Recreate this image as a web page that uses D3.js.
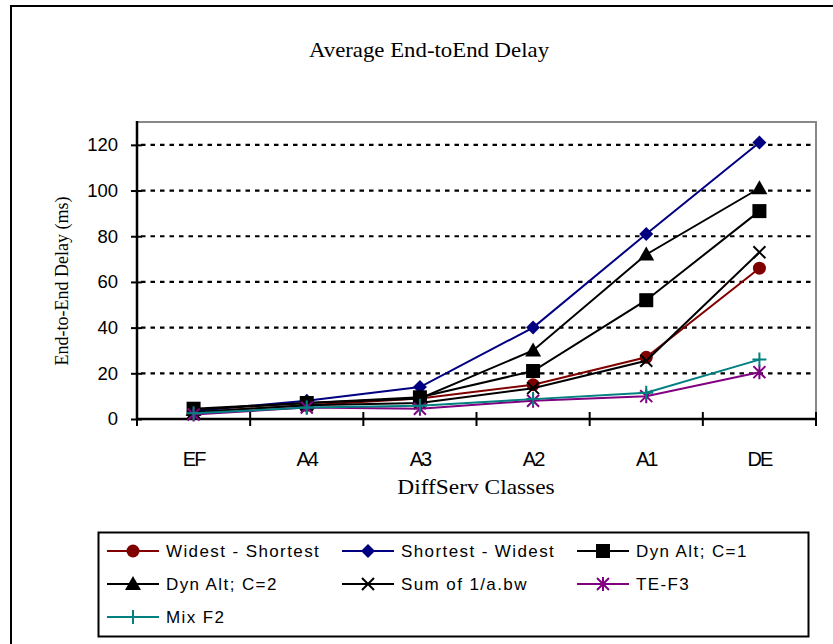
<!DOCTYPE html>
<html>
<head>
<meta charset="utf-8">
<script src="https://cdn.jsdelivr.net/npm/d3@7"></script>
<style>
  body { margin: 0; background: #fff; }
  .sans { font-family: "Liberation Sans", Arial, sans-serif; }
  .serif { font-family: "Liberation Serif", "Times New Roman", serif; }
</style>
</head>
<body>
<div id="chart"></div>
<script>
let width = 833;
let height = 644;

let classes = ["EF", "A4", "A3", "A2", "A1", "DE"];
let yTicks = [0, 20, 40, 60, 80, 100, 120];

let widestShortest = [3, 6, 9, 15, 27, 66];
let shortestWidest = [3.5, 8, 14, 40, 81, 121];
let dynAltC1 = [4.5, 7, 9.5, 21, 52, 91];
let dynAltC2 = [4, 7, 9, 30, 72, 101];
let sumOfInvBw = [3, 6, 7, 13.5, 25.5, 73];
let teF3 = [2, 5, 4.5, 8, 10, 20.5];
let mixF2 = [2.5, 5, 5.8, 8.7, 11.5, 26];

let seriesNames = ["Widest - Shortest", "Shortest - Widest", "Dyn Alt; C=1",
    "Dyn Alt; C=2", "Sum of  1/a.bw", "TE-F3", "Mix F2"];
let seriesValues = [widestShortest, shortestWidest, dynAltC1, dynAltC2, sumOfInvBw, teF3, mixF2];
let seriesColors = ["#800000", "#000080", "#000000", "#000000", "#000000", "#800080", "#008080"];
let seriesMarkers = ["circle", "diamond", "square", "triangle", "cross", "star", "plus"];

let plot = { left: 137, right: 816, top: 122, bottom: 419 };

let svg = d3.select("#chart").append("svg")
    .attr("width", width)
    .attr("height", height);

svg.append("rect").attr("width", width).attr("height", height).attr("fill", "#fff");

// outer frame (right/bottom edges fall outside the picture)
svg.append("rect")
    .attr("x", 11).attr("y", 6)
    .attr("width", 840).attr("height", 660)
    .attr("fill", "none").attr("stroke", "#000").attr("stroke-width", 2);

// serif texts in the original are a bit wider than Times, so stretch them
svg.append("text")
    .attr("class", "serif")
    .attr("transform", "translate(429,57) scale(1.14,1)")
    .attr("text-anchor", "middle")
    .style("font-size", "20px")
    .text("Average End-toEnd Delay");

let x = d3.scaleBand()
    .domain(classes)
    .range([plot.left, plot.right]);

let y = d3.scaleLinear()
    .domain([0, 130])
    .range([plot.bottom, plot.top]);

// plot box top/right
svg.append("path")
    .attr("d", "M" + plot.left + "," + plot.top + "H" + plot.right + "V" + plot.bottom)
    .attr("fill", "none").attr("stroke", "#888").attr("stroke-width", 2);

// dashed grid
svg.append("g").selectAll("line")
    .data(yTicks.filter(d => d > 0))
    .enter().append("line")
    .attr("x1", plot.left + 4).attr("x2", plot.right - 1)
    .attr("y1", d => y(d)).attr("y2", d => y(d))
    .attr("stroke", "#000").attr("stroke-width", 2.2)
    .attr("stroke-dasharray", "4.5,5");

// y axis
let yAxis = svg.append("g")
    .attr("class", "sans")
    .attr("transform", "translate(" + plot.left + ",0)")
    .call(d3.axisLeft(y).tickValues(yTicks).tickSize(6).tickPadding(13));
yAxis.select(".domain").remove();
yAxis.selectAll(".tick line").attr("x2", -6).attr("x1", 5).attr("stroke-width", 2);
yAxis.selectAll(".tick text").style("font-size", "18.5px").attr("fill", "#000")
    .style("font-family", "Liberation Sans, Arial, sans-serif");
svg.append("line")
    .attr("x1", plot.left).attr("x2", plot.left)
    .attr("y1", plot.top - 1).attr("y2", plot.bottom + 1)
    .attr("stroke", "#000").attr("stroke-width", 2.5);

// x axis
let xAxis = svg.append("g")
    .attr("transform", "translate(0," + plot.bottom + ")")
    .call(d3.axisBottom(x).tickSize(0).tickPadding(33));
xAxis.select(".domain").remove();
xAxis.selectAll(".tick text").style("font-size", "20px").attr("fill", "#000")
    .style("font-family", "Liberation Sans, Arial, sans-serif")
    .style("letter-spacing", "-2px");
svg.append("line")
    .attr("x1", plot.left).attr("x2", plot.right)
    .attr("y1", plot.bottom).attr("y2", plot.bottom)
    .attr("stroke", "#000").attr("stroke-width", 2.5);
let edges = classes.map(d => x(d)).concat([x.range()[1]]);
svg.append("g").selectAll("line")
    .data(edges)
    .enter().append("line")
    .attr("x1", d => d).attr("x2", d => d)
    .attr("y1", plot.bottom - 7).attr("y2", plot.bottom + 7)
    .attr("stroke", "#000").attr("stroke-width", 2);

svg.append("text")
    .attr("class", "serif")
    .attr("transform", "translate(476,494) scale(1.17,1)")
    .attr("text-anchor", "middle")
    .style("font-size", "20px")
    .text("DiffServ Classes");

svg.append("text")
    .attr("class", "serif")
    .attr("transform", "translate(68,281) rotate(-90)")
    .attr("text-anchor", "middle")
    .attr("fill", "#000")
    .style("font-size", "18px")
    .text("End-to-End Delay (ms)");

// markers
function drawMarker(g, type, color) {
    if (type === "circle") {
        g.append("circle").attr("r", 6.5).attr("fill", color);
    } else if (type === "diamond") {
        g.append("path").attr("d", "M0,-7L7,0L0,7L-7,0Z").attr("fill", color);
    } else if (type === "square") {
        g.append("rect").attr("x", -7).attr("y", -7).attr("width", 14).attr("height", 14).attr("fill", color);
    } else if (type === "triangle") {
        g.append("path").attr("d", "M0,-8L8,6L-8,6Z").attr("fill", color);
    } else if (type === "cross") {
        g.append("path").attr("d", "M-6,-6L6,6M-6,6L6,-6").attr("stroke", color).attr("stroke-width", 2);
    } else if (type === "star") {
        g.append("path").attr("d", "M-6,-6L6,6M-6,6L6,-6M0,-7L0,7").attr("stroke", color).attr("stroke-width", 2);
    } else if (type === "plus") {
        g.append("path").attr("d", "M-7,0L7,0M0,-7L0,7").attr("stroke", color).attr("stroke-width", 2);
    }
}

let line = d3.line()
    .x((d, i) => x(classes[i]) + x.bandwidth() / 2)
    .y(d => y(d));

let series = svg.append("g").selectAll("g.series")
    .data(seriesValues)
    .enter().append("g")
    .attr("class", "series");

series.each(function (vals, si) {
    let g = d3.select(this);
    g.append("path")
        .attr("d", line(vals))
        .attr("fill", "none")
        .attr("stroke", seriesColors[si])
        .attr("stroke-width", 2);
    vals.forEach(function (v, i) {
        let m = g.append("g")
            .attr("transform", "translate(" + (x(classes[i]) + x.bandwidth() / 2) + "," + y(v) + ")");
        drawMarker(m, seriesMarkers[si], seriesColors[si]);
    });
});

// legend
svg.append("rect")
    .attr("x", 98.5).attr("y", 532.5)
    .attr("width", 710).attr("height", 104)
    .attr("fill", "none").attr("stroke", "#000").attr("stroke-width", 2);

let legendCols = [107, 342, 577];
let legendRows = [551, 584, 617];

seriesNames.forEach(function (name, i) {
    let lx = legendCols[i % 3];
    let ly = legendRows[Math.floor(i / 3)];
    let g = svg.append("g").attr("transform", "translate(" + lx + "," + ly + ")");
    g.append("line").attr("x1", 0).attr("x2", 52)
        .attr("stroke", seriesColors[i]).attr("stroke-width", 2);
    let m = g.append("g").attr("transform", "translate(26,0)");
    drawMarker(m, seriesMarkers[i], seriesColors[i]);
    g.append("text")
        .attr("class", "sans")
        .attr("x", 59).attr("y", 6)
        .style("font-size", "17px")
        .style("letter-spacing", "1.4px")
        .text(name);
});
</script>
</body>
</html>
